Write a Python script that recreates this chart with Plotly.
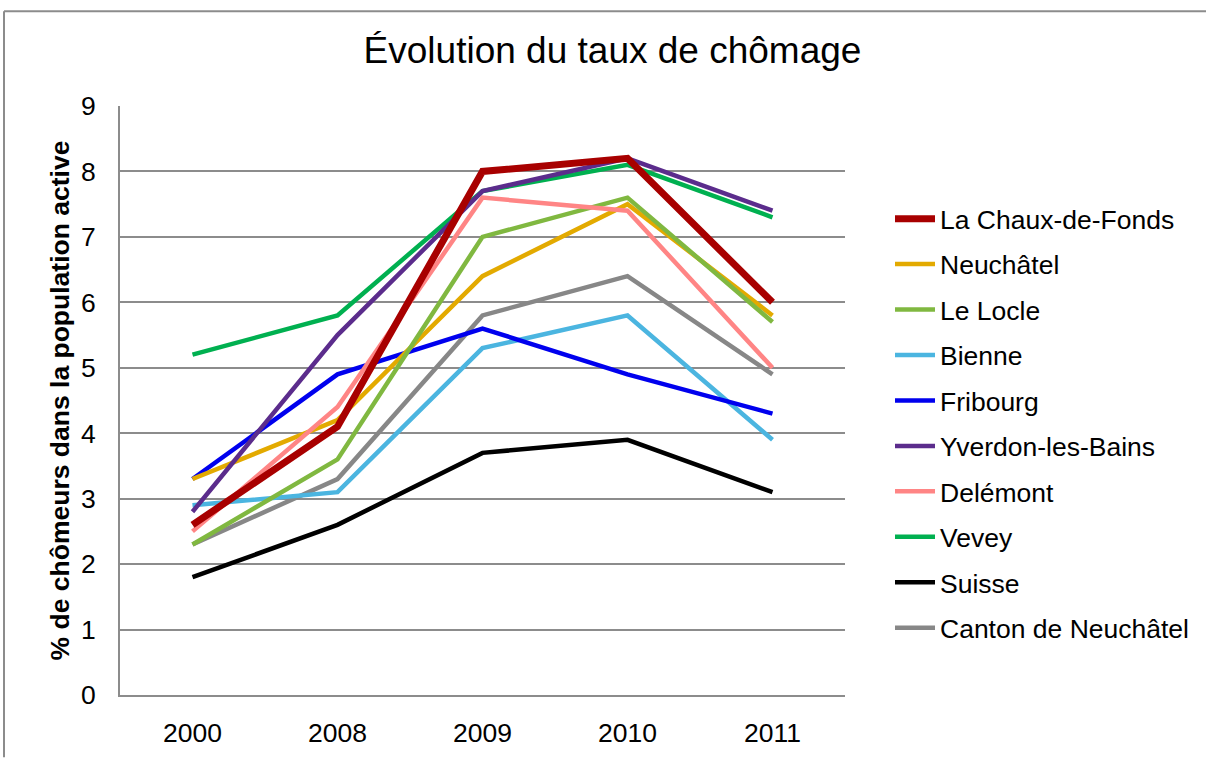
import plotly.graph_objects as go

years = ["2000", "2008", "2009", "2010", "2011"]

la_chaux_de_fonds = [2.6, 4.1, 8.0, 8.2, 6.0]
neuchatel = [3.3, 4.2, 6.4, 7.5, 5.8]
le_locle = [2.3, 3.6, 7.0, 7.6, 5.7]
bienne = [2.9, 3.1, 5.3, 5.8, 3.9]
fribourg = [3.3, 4.9, 5.6, 4.9, 4.3]
yverdon = [2.8, 5.5, 7.7, 8.2, 7.4]
delemont = [2.5, 4.4, 7.6, 7.4, 5.0]
vevey = [5.2, 5.8, 7.7, 8.1, 7.3]
suisse = [1.8, 2.6, 3.7, 3.9, 3.1]
canton_neuchatel = [2.3, 3.3, 5.8, 6.4, 4.9]

series = [
    ("La Chaux-de-Fonds", la_chaux_de_fonds, "#A80000", 7),
    ("Neuchâtel", neuchatel, "#E3AA00", 4.5),
    ("Le Locle", le_locle, "#80B840", 4.5),
    ("Bienne", bienne, "#4BB5E0", 4.5),
    ("Fribourg", fribourg, "#0000EE", 4.5),
    ("Yverdon-les-Bains", yverdon, "#5B2C8C", 4.5),
    ("Delémont", delemont, "#FF8585", 4.5),
    ("Vevey", vevey, "#00B050", 4.5),
    ("Suisse", suisse, "#000000", 4.5),
    ("Canton de Neuchâtel", canton_neuchatel, "#878787", 4.5),
]

W, H = 1206, 760
L, R, T, B = 120, 845, 106, 702

fig = go.Figure()
draw_order = [9, 8, 3, 4, 1, 2, 6, 7, 5, 0]
for i in draw_order:
    name, vals, color, lw = series[i]
    fig.add_trace(go.Scatter(
        x=years, y=vals, name=name, mode="lines",
        line=dict(color=color, width=lw),
        legendrank=i + 1, legendgroup=name,
    ))

font_family = "Liberation Sans, Arial, sans-serif"
fs = 26.5

fig.update_layout(
    width=W, height=H,
    margin=dict(l=L, r=W - R, t=T, b=H - B, pad=0),
    paper_bgcolor="white", plot_bgcolor="white",
    font=dict(family=font_family, size=fs, color="black"),
    title=dict(text="Évolution du taux de chômage", x=612.5 / W, xanchor="center",
               y=1 - 50 / H, yanchor="middle", yref="container", xref="container",
               font=dict(size=37, family=font_family, color="black")),
    showlegend=True,
    legend=dict(x=(890 - L) / (R - L), xanchor="left", y=(B - 196) / (B - T), yanchor="top",
                font=dict(size=fs, family=font_family, color="black"),
                bgcolor="rgba(0,0,0,0)", traceorder="grouped", tracegroupgap=8,
                itemwidth=40),
    xaxis=dict(type="category", range=[-0.5, 4.5], showgrid=False,
               showline=True, linecolor="#8C8C8C", linewidth=2,
               ticks="", ticklabelstandoff=13, tickfont=dict(size=fs),
               fixedrange=True),
    yaxis=dict(range=[0, 9], dtick=1, showgrid=True, gridcolor="#8C8C8C", gridwidth=1.5,
               showline=True, linecolor="#8C8C8C", linewidth=2, zeroline=False,
               ticks="", ticklabelstandoff=17, tickfont=dict(size=fs),
               title=dict(text="<b>% de chômeurs dans la population active</b>",
                          font=dict(size=fs, family=font_family), standoff=4),
               fixedrange=True),
)

# chart frame
fig.add_shape(type="line", xref="paper", yref="paper",
              x0=(4 - L) / (R - L), x1=(W + 5 - L) / (R - L),
              y0=(B - 10) / (B - T), y1=(B - 10) / (B - T),
              line=dict(color="#8C8C8C", width=2))
fig.add_shape(type="line", xref="paper", yref="paper",
              x0=(4 - L) / (R - L), x1=(4 - L) / (R - L),
              y0=(B - 10) / (B - T), y1=(B - H - 5) / (B - T),
              line=dict(color="#8C8C8C", width=2))

fig.write_html("out.html", config={"displayModeBar": False},
               post_script="document.body.style.margin='0px';")
